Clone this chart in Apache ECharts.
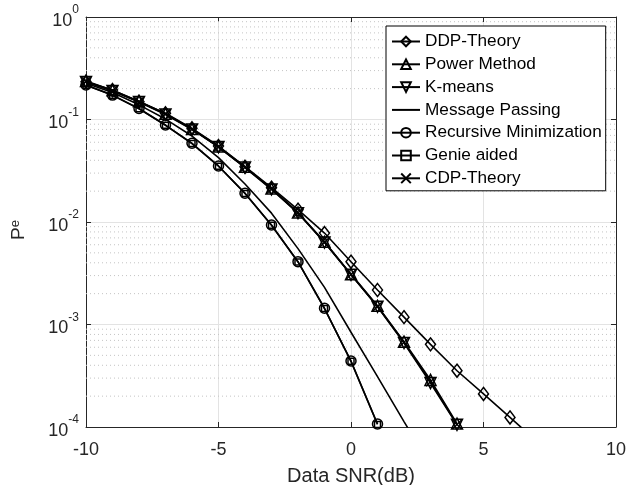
<!DOCTYPE html>
<html>
<head>
<meta charset="utf-8">
<script src="https://cdn.jsdelivr.net/npm/echarts@6/dist/echarts.min.js"></script>
<style>
    html, body { margin: 0; background: #fff; }
    #main { width: 628px; height: 485px; }
</style>
</head>
<body>
<div id="main"></div>
<script>
    // 横轴 SNR(dB)
    const snr = [-10, -9, -8, -7, -6, -5, -4, -3, -2, -1, 0, 1, 2, 3, 4, 5, 6, 7];

    const ddpTheory = [0.234, 0.194, 0.149, 0.115, 0.082, 0.0551, 0.0346, 0.0216, 0.0132, 0.0078, 0.0041, 0.00217, 0.00118, 0.00064, 0.000354, 0.00021, 0.000124, 0.000073];
    const powerMethod = [0.238, 0.193, 0.151, 0.114, 0.081, 0.0545, 0.0345, 0.0212, 0.0124, 0.0064, 0.0031, 0.00152, 0.00068, 0.000288, 0.000108];
    const kMeans = [0.232, 0.190, 0.148, 0.112, 0.080, 0.0538, 0.0340, 0.0208, 0.0122, 0.0063, 0.00305, 0.00149, 0.00066, 0.000268, 0.000105];
    const messagePassing = [0.226, 0.183, 0.139, 0.101, 0.069, 0.0425, 0.0235, 0.0122, 0.0055, 0.0023, 0.00084, 0.00031, 0.000113, 0.000042];
    const recursiveMin = [0.217, 0.173, 0.128, 0.0883, 0.0586, 0.0352, 0.0191, 0.00935, 0.0041, 0.00144, 0.00044, 0.000107];
    const genieAided = [0.216, 0.172, 0.127, 0.0878, 0.0583, 0.0350, 0.0190, 0.00930, 0.00408, 0.00143, 0.000437, 0.000106];
    const cdpTheory = [0.235, 0.191, 0.149, 0.113, 0.0805, 0.0541, 0.0342, 0.0210, 0.0123, 0.00635, 0.00307, 0.0015, 0.00067, 0.000276, 0.000106];

    const names = ['DDP-Theory', 'Power Method', 'K-means', 'Message Passing', 'Recursive Minimization', 'Genie aided', 'CDP-Theory'];

    // 对数轴刻度
    const yTickValues = [0.0001, 0.001, 0.01, 0.1, 1];
    const yTickExps = ['-4', '-3', '-2', '-1', '0'];
    const xTicks = [-10, -5, 0, 5, 10];
    // 次网格线 (2..9 x 10^k)
    const minorGrid = [
        0.0002, 0.0003, 0.0004, 0.0005, 0.0006, 0.0007, 0.0008, 0.0009,
        0.002, 0.003, 0.004, 0.005, 0.006, 0.007, 0.008, 0.009,
        0.02, 0.03, 0.04, 0.05, 0.06, 0.07, 0.08, 0.09,
        0.2, 0.3, 0.4, 0.5, 0.6, 0.7, 0.8, 0.9
    ];

    const FONT = 'Liberation Sans';
    const AXIS_COLOR = '#262626';

    const chart = echarts.init(document.getElementById('main'));

    const pairs = arr => arr.map((v, i) => [snr[i], v]);

    function lineSeries(name, values, symbol, size, extra) {
        return Object.assign({
            name,
            type: 'line',
            data: pairs(values),
            symbol,
            symbolSize: size,
            clip: true,
            animation: false,
            lineStyle: { color: '#000', width: 1.6 },
            itemStyle: { color: 'rgba(255,255,255,0)', borderColor: '#000', borderWidth: 1.5 },
            z: 3
        }, extra || {});
    }

    const expOf = v => {
        const idx = yTickValues.findIndex(t => Math.abs(Math.log10(t) - Math.log10(v)) < 1e-6);
        return idx >= 0 ? yTickExps[idx] : '';
    };

    const option = {
        animation: false,
        textStyle: { fontFamily: FONT },
        grid: { left: 86, right: 12, top: 17, bottom: 58, outerBoundsMode: 'none', containLabel: false },
        legend: {
            data: names.map(n => (n === 'Message Passing'
                ? { name: n, itemStyle: { color: 'rgba(0,0,0,0)', borderColor: 'rgba(0,0,0,0)', borderWidth: 0 } }
                : n)),
            orient: 'vertical',
            left: 386,
            top: 26,
            padding: [7, 4, 4, 5],
            itemWidth: 28,
            itemHeight: 12,
            itemGap: 5.8,
            borderColor: '#000',
            borderWidth: 1,
            backgroundColor: '#fff',
            z: 10,
            textStyle: { fontFamily: FONT, fontSize: 17.2, color: '#000' }
        },
        xAxis: [
            {
                type: 'value',
                min: -10,
                max: 10,
                interval: 5,
                name: 'Data SNR(dB)',
                nameLocation: 'middle',
                nameGap: 39,
                nameTextStyle: { fontFamily: FONT, fontSize: 20, color: AXIS_COLOR },
                axisLine: { onZero: false, lineStyle: { color: AXIS_COLOR, width: 1 } },
                axisTick: { inside: true, length: 5, lineStyle: { color: AXIS_COLOR } },
                axisLabel: {
                    fontFamily: FONT, fontSize: 18, color: AXIS_COLOR, margin: 14,
                    formatter: v => (xTicks.indexOf(v) >= 0 ? String(v) : '')
                },
                splitLine: { show: true, lineStyle: { color: '#e3e3e3', width: 1 } }
            },
            {
                type: 'value',
                position: 'top',
                min: -10,
                max: 10,
                interval: 5,
                axisLine: { show: true, onZero: false, lineStyle: { color: AXIS_COLOR, width: 1 } },
                axisTick: { show: true, inside: true, length: 5, lineStyle: { color: AXIS_COLOR } },
                axisLabel: { show: false },
                splitLine: { show: false }
            }
        ],
        yAxis: [
            {
                type: 'log',
                logBase: 10,
                min: 0.0001,
                max: 1,
                name: '{p|P}{e|e}',
                nameLocation: 'middle',
                nameGap: 58,
                nameRotate: 90,
                nameTextStyle: {
                    color: AXIS_COLOR,
                    padding: [0, 16, 0, 0],
                    rich: {
                        p: { fontFamily: FONT, fontSize: 19, color: AXIS_COLOR, verticalAlign: 'bottom' },
                        e: { fontFamily: FONT, fontSize: 13, color: AXIS_COLOR, verticalAlign: 'top' }
                    }
                },
                axisLine: { show: true, onZero: false, lineStyle: { color: AXIS_COLOR, width: 1 } },
                axisTick: { inside: true, length: 5, lineStyle: { color: AXIS_COLOR } },
                axisLabel: {
                    margin: 7,
                    formatter: v => '{b|10}{s|' + expOf(v) + '}',
                    rich: {
                        b: { fontFamily: FONT, fontSize: 18, color: AXIS_COLOR, verticalAlign: 'bottom', padding: [8, 0, 0, 0] },
                        s: { fontFamily: FONT, fontSize: 12, color: AXIS_COLOR, verticalAlign: 'top', padding: [0, 0, 8, 0] }
                    }
                },
                splitLine: { show: true, lineStyle: { color: '#e3e3e3', width: 1 } }
            },
            {
                type: 'log',
                logBase: 10,
                min: 0.0001,
                max: 1,
                position: 'right',
                axisLine: { show: true, onZero: false, lineStyle: { color: AXIS_COLOR, width: 1 } },
                axisTick: { show: true, inside: true, length: 5, lineStyle: { color: AXIS_COLOR } },
                axisLabel: { show: false },
                splitLine: { show: false }
            }
        ],
        series: [
            {
                // 次网格线：点线
                name: 'minorGrid',
                type: 'custom',
                silent: true,
                z: 1,
                data: minorGrid.map(v => [0, v]),
                renderItem: (params, api) => {
                    const cs = params.coordSys;
                    const y = api.coord([0, api.value(1)])[1];
                    return {
                        type: 'line',
                        shape: { x1: cs.x, y1: y, x2: cs.x + cs.width, y2: y },
                        style: { stroke: '#c4c4c4', lineWidth: 1, lineDash: [1, 3] }
                    };
                }
            },
            lineSeries(names[0], ddpTheory, 'diamond', [10, 13]),
            lineSeries(names[1], powerMethod, 'triangle', 11),
            lineSeries(names[2], kMeans, 'triangle', 11, { symbolRotate: 180 }),
            lineSeries(names[3], messagePassing, 'none', 0, { showSymbol: false }),
            lineSeries(names[4], recursiveMin, 'circle', 10),
            lineSeries(names[5], genieAided, 'rect', 6),
            lineSeries(names[6], cdpTheory, 'path://M0,0L10,10M10,0L0,10', 9)
        ]
    };

    chart.setOption(option);
</script>
</body>
</html>
